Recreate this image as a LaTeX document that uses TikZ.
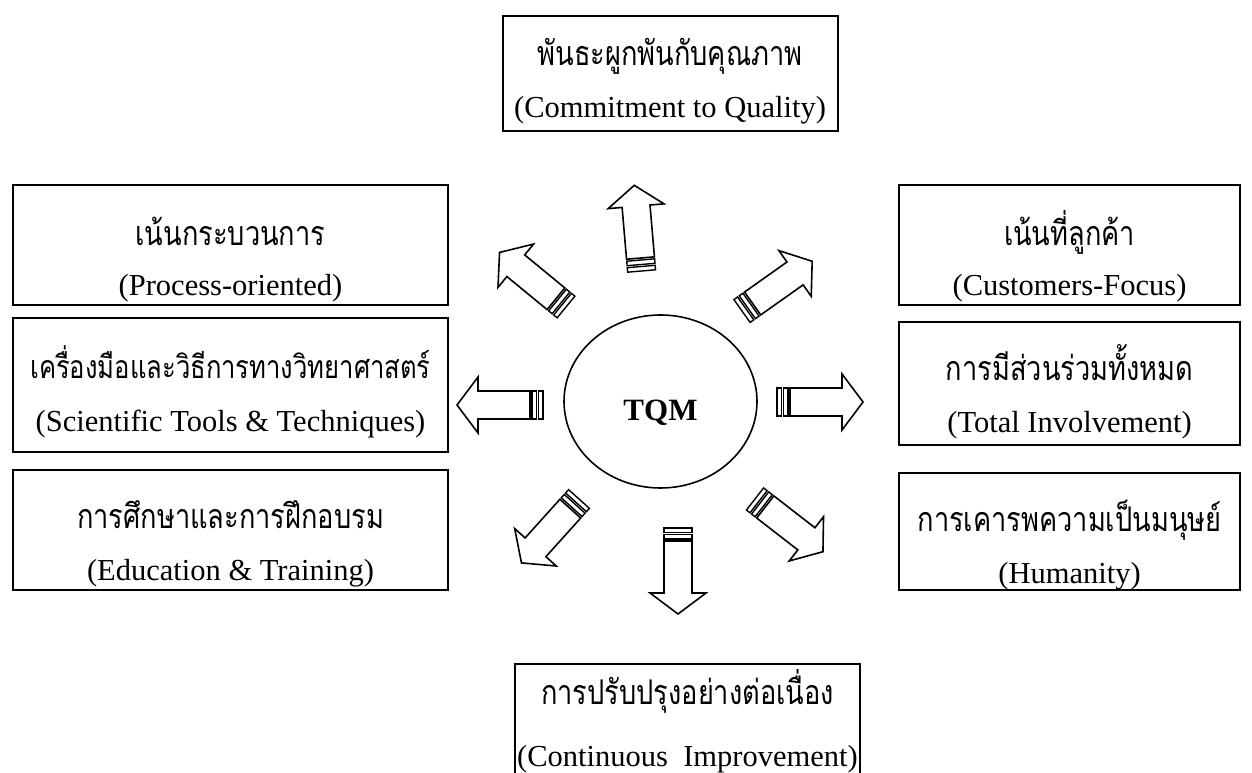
\documentclass[tikz,border=0pt]{standalone}
\usepackage{fontspec}
\setmainfont{Liberation Serif}
\newfontfamily\thaifont[Script=Thai, FakeStretch=0.8]{Loma}
\usetikzlibrary{positioning}

\tikzset{
  box/.style={draw, line width=2pt, rectangle, inner sep=0pt},
  thtext/.style={font=\thaifont\fontsize{34}{40}\selectfont, inner sep=0pt, anchor=base},
  entext/.style={font=\fontsize{30.5}{36}\selectfont, inner sep=0pt, anchor=base},
  stripearrow/.pic={
    \draw[line width=1.6pt, line join=miter] (13,-14) -- (65,-14) -- (65,-28) -- (86,0) -- (65,28) -- (65,14) -- (13,14) -- cycle;
    \draw[line width=1.4pt] (0,-14) rectangle (4.5,14);
    \draw[line width=1.4pt] (6.5,-14) rectangle (11,14);
  }
}

\begin{document}
\begin{tikzpicture}[x=1pt, y=1pt]
  \clip (0,0) rectangle (1252,773);

  % centre
  \draw[line width=1.6pt] (660.5,371.5) ellipse [x radius=96.5, y radius=86.5];
  \node[font=\bfseries\fontsize{31}{36}\selectfont] (tqm) at (660.5,360) {TQM};

  % boxes
  \node[box, minimum width=335pt, minimum height=115pt] (quality) at (670,699.5) {};
  \node[box, minimum width=435pt, minimum height=120pt] (process) at (230.5,528) {};
  \node[box, minimum width=435pt, minimum height=134pt] (tools) at (230.5,388) {};
  \node[box, minimum width=435pt, minimum height=120pt] (training) at (230.5,243) {};
  \node[box, minimum width=341pt, minimum height=120pt] (customer) at (1069.5,528) {};
  \node[box, minimum width=341pt, minimum height=123pt] (involve) at (1069.5,389.5) {};
  \node[box, minimum width=341pt, minimum height=117pt] (humanity) at (1069.5,241.5) {};
  \node[box, minimum width=345pt, minimum height=126pt] (improve) at (687.5,46) {};

  % texts
  \node[thtext] (quality-th) at ([yshift=-51pt]quality.north) {พันธะผูกพันกับคุณภาพ};
  \node[entext] (quality-en) at ([yshift=-103pt]quality.north) {(Commitment to Quality)};
  \node[thtext] (process-th) at ([yshift=-62pt]process.north) {เน้นกระบวนการ};
  \node[entext] (process-en) at ([yshift=-112pt]process.north) {(Process-oriented)};
  \node[thtext, font=\thaifont\fontsize{32}{40}\selectfont] (tools-th) at ([yshift=-62pt]tools.north) {เครื่องมือและวิธีการทางวิทยาศาสตร์};
  \node[entext] (tools-en) at ([yshift=-115pt]tools.north) {(Scientific Tools \& Techniques)};
  \node[thtext] (training-th) at ([yshift=-60pt]training.north) {การศึกษาและการฝึกอบรม};
  \node[entext] (training-en) at ([yshift=-112pt]training.north) {(Education \& Training)};
  \node[thtext] (customer-th) at ([yshift=-62pt]customer.north) {เน้นที่ลูกค้า};
  \node[entext] (customer-en) at ([yshift=-112pt]customer.north) {(Customers-Focus)};
  \node[thtext] (involve-th) at ([yshift=-60pt]involve.north) {การมีส่วนร่วมทั้งหมด};
  \node[entext] (involve-en) at ([yshift=-112pt]involve.north) {(Total Involvement)};
  \node[thtext] (humanity-th) at ([yshift=-60pt]humanity.north) {การเคารพความเป็นมนุษย์};
  \node[entext] (humanity-en) at ([yshift=-112pt]humanity.north) {(Humanity)};
  \node[thtext] (improve-th) at ([yshift=-42pt]improve.north) {การปรับปรุงอย่างต่อเนื่อง};
  \node[entext] (improve-en) at ([yshift=-104pt]improve.north) {(Continuous\ \ Improvement)};

  % striped arrows
  \pic[rotate=94.9] at (641.6,502) {stripearrow};
  \pic[rotate=140.6] at (566,466) {stripearrow};
  \pic[rotate=35.3] at (742,462) {stripearrow};
  \pic[rotate=180] at (543,368) {stripearrow};
  \pic[rotate=0] at (777,371) {stripearrow};
  \pic[rotate=228] at (579,274) {stripearrow};
  \pic[rotate=270] at (678,245) {stripearrow};
  \pic[rotate=-37.8] at (755,274) {stripearrow};
\end{tikzpicture}
\end{document}
